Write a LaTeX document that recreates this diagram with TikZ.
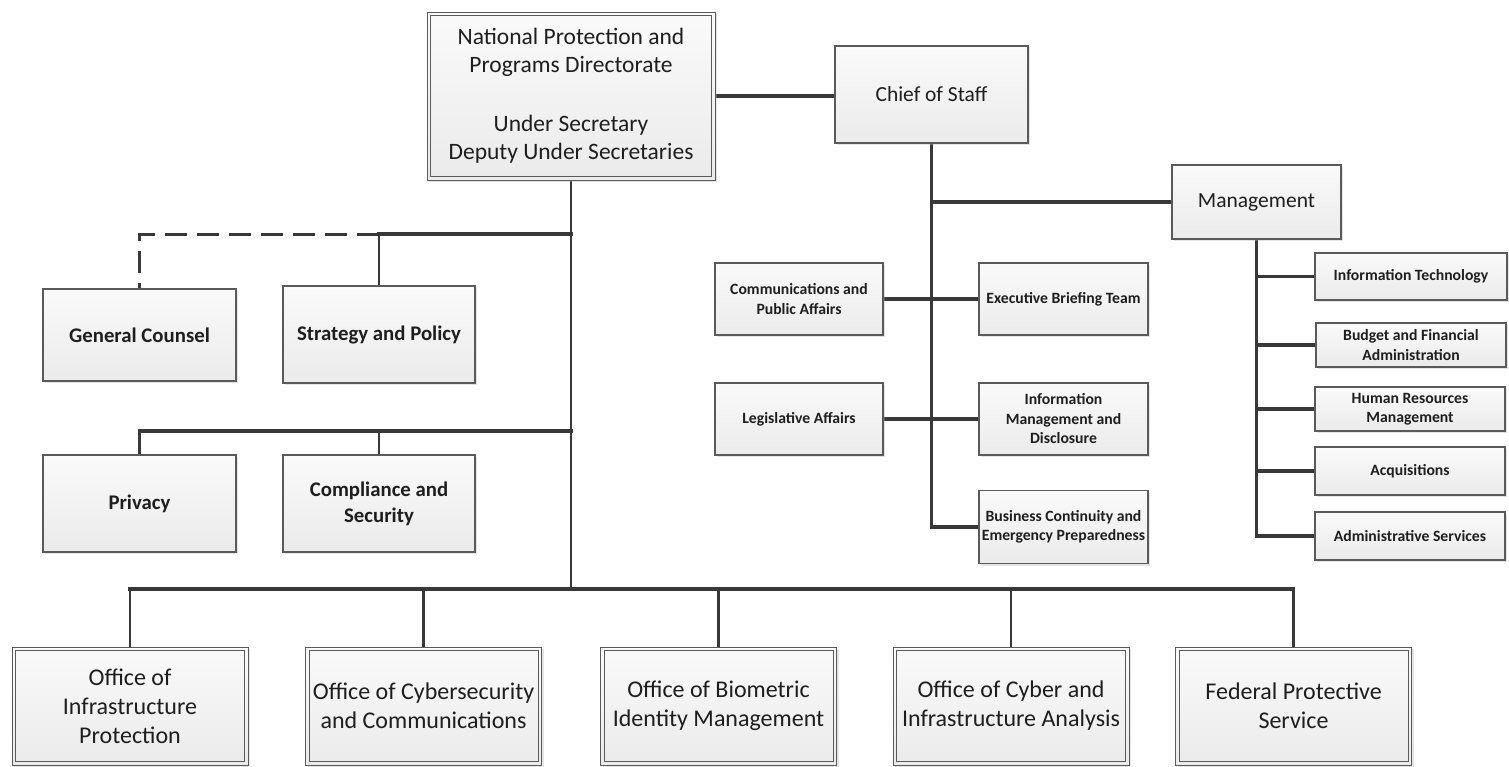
\documentclass[tikz,border=0pt]{standalone}
\usepackage{fontspec}
\setmainfont{Carlito}
\usetikzlibrary{shadows,backgrounds}
\definecolor{ln}{HTML}{383838}
\definecolor{bd}{HTML}{5A5A5A}
\definecolor{tx}{HTML}{1E1E1E}
\pgfdeclarelayer{paper}
\pgfsetlayers{paper,background,main}
\begin{document}
\begin{tikzpicture}[x=1pt,y=-1pt,
  base/.style={draw=bd, line width=1.1pt, top color=black!2, bottom color=black!8,
    text=tx, align=center, inner sep=0pt},
  sbox/.style={base, drop shadow={shadow xshift=2pt, shadow yshift=-2pt, fill=black!30, opacity=0.35}},
  dbox/.style={base, line width=1pt, drop shadow={shadow xshift=2pt, shadow yshift=-2pt, fill=black!30, opacity=0.35}},
  bigf/.style={font=\fontsize{23.5}{28}\selectfont},
  botf/.style={font=\fontsize{24}{29}\selectfont},
  midf/.style={font=\fontsize{21.5}{26}\selectfont},
  leftf/.style={font=\bfseries\fontsize{20.8}{26}\selectfont},
  smallf/.style={font=\bfseries\fontsize{15.7}{19.5}\selectfont},
  hl/.style={draw=ln, line width=3.4pt, line cap=rect},
  vl/.style={draw=ln, line width=2.8pt, line cap=rect},
  dl/.style={draw=ln, line width=3pt, dash pattern=on 22pt off 10pt}
]
\begin{pgfonlayer}{paper}
\fill[white] (0,0) rectangle (1509,766);
\end{pgfonlayer}
\useasboundingbox (0,0) rectangle (1509,766);

% top
\node[dbox, bigf, minimum width=288pt, minimum height=168pt] (top) at (571,96)
  {National Protection and\\Programs Directorate\\[31pt]Under Secretary\\Deputy Under Secretaries};
\draw[bd, line width=1pt] ([shift={(4pt,-4pt)}]top.north west) rectangle ([shift={(-4pt,4pt)}]top.south east);

\node[sbox, midf, minimum width=193pt, minimum height=97pt] (chief) at (931.5,94.5) {Chief of Staff};
\node[sbox, midf, minimum width=169pt, minimum height=74pt] (mgmt) at (1256.5,202) {Management};

% centre column
\node[sbox, smallf, minimum width=168pt, minimum height=72pt] (comm) at (799,299) {Communications and\\Public Affairs};
\node[sbox, smallf, minimum width=169pt, minimum height=72pt] (exec) at (1063.5,299) {Executive Briefing Team};
\node[sbox, smallf, minimum width=168pt, minimum height=72pt] (legis) at (799,419) {Legislative Affairs};
\node[sbox, smallf, minimum width=169pt, minimum height=72pt] (info) at (1063.5,419) {Information\\Management and\\Disclosure};
\node[sbox, smallf, minimum width=169pt, minimum height=73pt] (bc) at (1063.5,527) {Business Continuity and\\Emergency Preparedness};

% right column
\node[sbox, smallf, minimum width=192pt, minimum height=47pt] (it) at (1411,276.5) {Information Technology};
\node[sbox, smallf, minimum width=190pt, minimum height=44pt] (bud) at (1411,345) {Budget and Financial\\Administration};
\node[sbox, smallf, minimum width=190pt, minimum height=44pt] (hr) at (1410,409) {Human Resources\\Management};
\node[sbox, smallf, minimum width=190pt, minimum height=48pt] (acq) at (1410,471) {Acquisitions};
\node[sbox, smallf, minimum width=190pt, minimum height=48pt] (adm) at (1410,536) {Administrative Services};

% left column
\node[sbox, leftf, minimum width=193pt, minimum height=92pt] (gc) at (139.5,335) {General Counsel};
\node[sbox, leftf, minimum width=192pt, minimum height=97pt] (sp) at (379,334.5) {Strategy and Policy};
\node[sbox, leftf, minimum width=193pt, minimum height=97pt] (priv) at (139.5,503.5) {Privacy};
\node[sbox, leftf, minimum width=192pt, minimum height=97pt] (comp) at (379,503.5) {Compliance and\\Security};

% bottom row
\foreach \n/\cx/\t in {b1/130/{Office of\\Infrastructure\\Protection},
                       b2/423.5/{Office of Cybersecurity\\and Communications},
                       b3/718.5/{Office of Biometric\\Identity Management},
                       b4/1011/{Office of Cyber and\\Infrastructure Analysis},
                       b5/1293.5/{Federal Protective\\Service}}{
  \node[dbox, botf, minimum width=236pt, minimum height=118pt] (\n) at (\cx,706) {\t};
  \draw[bd, line width=1pt] ([shift={(4pt,-4pt)}]\n.north west) rectangle ([shift={(-4pt,4pt)}]\n.south east);
}

\coordinate (bus) at (571,589);
\coordinate (j1) at (571,234);
\coordinate (j2) at (571,431);

\begin{scope}[on background layer]
  % top to chief
  \draw[hl] (top.east) -- (top.east -| chief.west);
  % chief column
  \draw[vl] (chief.south) -- (chief.south |- bc.west);
  \draw[hl] (chief.south |- bc.west) -- (bc.west);
  \draw[hl] (chief.south |- mgmt.west) -- (mgmt.west);
  \draw[hl] (comm.east) -- (exec.west);
  \draw[hl] (legis.east) -- (info.west);
  % management column
  \draw[vl] (mgmt.south) -- (mgmt.south |- adm.west);
  \foreach \m in {it,bud,hr,acq,adm}{
    \draw[hl] (mgmt.south |- \m.west) -- (\m.west);
  }
  % main trunk
  \draw[vl] (top.south) -- (bus);
  \draw[hl] (j1) -- (j1 -| sp.north);
  \draw[vl] (j1 -| sp.north) -- (sp.north);
  \draw[dl] (j1 -| sp.north) -- (j1 -| gc.north) -- (gc.north);
  \draw[hl] (j2) -- (j2 -| priv.north);
  \draw[vl] (j2 -| priv.north) -- (priv.north);
  \draw[vl] (j2 -| comp.north) -- (comp.north);
  % bottom bus
  \draw[hl] (bus -| b1.north) -- (bus -| b5.north);
  \foreach \b in {b1,b2,b3,b4,b5}{
    \draw[vl] (bus -| \b.north) -- (\b.north);
  }
\end{scope}
\end{tikzpicture}
\end{document}
